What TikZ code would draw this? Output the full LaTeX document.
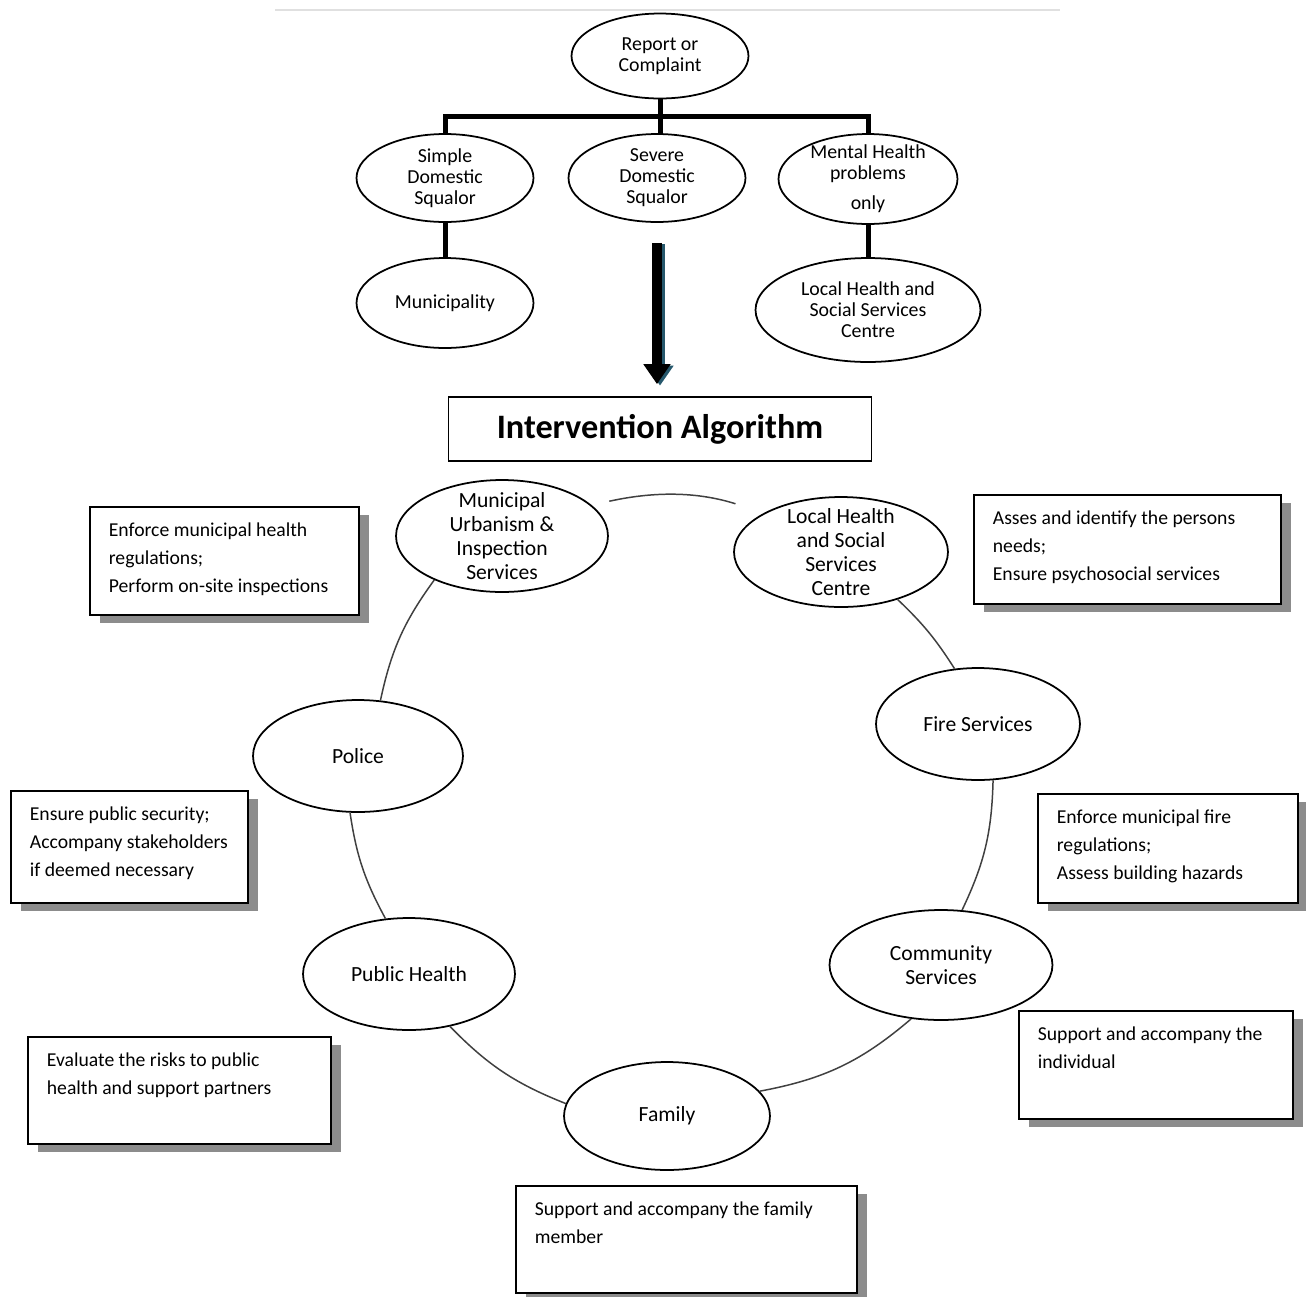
\documentclass[tikz,border=0pt]{standalone}
\usepackage{fontspec}
\setmainfont{Carlito}
\usepackage{tikz}
\usetikzlibrary{shapes,shadows,arrows.meta}
\definecolor{shadowteal}{RGB}{38,88,108}
\newcommand{\treefont}{\fontsize{11.3}{12}\selectfont}
\newcommand{\ringfont}{\fontsize{12.3}{13.6}\selectfont}
\newcommand{\notefont}{\fontsize{11.2}{15.9}\selectfont}
\newcommand{\notetext}[3]{\parbox[t][#2][t]{#1}{\raggedright #3}}

\begin{document}
\begin{tikzpicture}[x=0.02cm,y=-0.02cm]
\tikzstyle{case} = [ellipse, draw, line width=1pt, align=center, font=\treefont, inner xsep=0pt, inner ysep=-0.2cm]
\tikzstyle{ring} = [ellipse, draw, line width=1pt, align=center, font=\ringfont, inner xsep=0pt, inner ysep=-0.2cm]
\tikzstyle{note} = [draw, line width=1pt, fill=white, anchor=north west, inner xsep=0.38cm, inner ysep=0.32cm, font=\notefont, drop shadow={shadow xshift=0.2cm, shadow yshift=-0.17cm, opacity=1, fill=black!45}]
\tikzstyle{branch} = [line width=0.1cm]
\tikzstyle{link} = [draw=black!75, line width=0.85pt]
\tikzstyle{bigarrow} = [line width=0.2cm, -{Triangle[width=0.52cm,length=0.4cm]}]
\useasboundingbox (0,0) rectangle (1306,1296);

\draw[black!12, line width=0.6pt] (275,10) -- (1060,10);

% the report and its three cases
\node[case, minimum width=3.54cm, minimum height=1.70cm] (report) at (660,56) {Report or\\Complaint};
\node[case, minimum width=3.54cm, minimum height=1.76cm] (simple) at (445,178) {Simple\\Domestic\\Squalor};
\node[case, minimum width=3.54cm, minimum height=1.76cm] (severe) at (657,178) {Severe\\Domestic\\Squalor};
\node[case, minimum width=3.58cm, minimum height=1.80cm] (mental) at (868,179) {Mental Health\\problems\\[0.18cm]only};
\node[case, minimum width=3.54cm, minimum height=1.80cm] (municipality) at (445,303) {Municipality};
\node[case, minimum width=4.50cm, minimum height=2.08cm] (clsc) at (868,310) {Local Health and\\Social Services\\Centre};

\draw[branch] (report.south) -- (report.south |- severe.north);
\draw[branch] (simple.north) -- ++(0,-17) -| (mental.north);
\draw[branch] (simple.south) -- (municipality.north);
\draw[branch] (mental.south) -- (clsc.north);

\node[draw, line width=1pt, minimum width=8.46cm, minimum height=1.28cm, font=\fontsize{19.5}{22}\selectfont\bfseries] (algo) at (660,429) {Intervention Algorithm};

\draw[bigarrow, shadowteal, transform canvas={xshift=0.06cm, yshift=-0.03cm}] ([yshift=-0.4cm]severe.south) -- ([yshift=0.24cm]severe.south |- algo.north);
\draw[bigarrow] ([yshift=-0.4cm]severe.south) -- ([yshift=0.24cm]severe.south |- algo.north);

% the ring of partners
\node[ring, minimum width=4.24cm, minimum height=2.24cm] (urban) at (502,536) {Municipal\\Urbanism \&\\Inspection\\Services};
\node[ring, minimum width=4.28cm, minimum height=2.20cm] (health) at (841,552) {Local Health\\and Social\\Services\\Centre};
\node[ring, minimum width=4.08cm, minimum height=2.24cm] (fire) at (978,724) {Fire Services};
\node[ring, minimum width=4.46cm, minimum height=2.20cm] (community) at (941,965) {Community\\Services};
\node[ring, minimum width=4.12cm, minimum height=2.16cm] (family) at (667,1116) {Family};
\node[ring, minimum width=4.24cm, minimum height=2.24cm] (public) at (409,974) {Public Health};
\node[ring, minimum width=4.20cm, minimum height=2.24cm] (police) at (358,756) {Police};

\draw[link, shorten <=0.36cm, shorten >=0.6cm] (urban.19) to[bend left=15] (health.153);
\draw[link] (health.-40) to[bend left=7] (fire.113);
\draw[link] (fire.-75) to[bend left=12] (community.69);
\draw[link] (community.-119) to[bend left=15] (family.15);
\draw[link] (family.173) to[bend left=12] (public.-52);
\draw[link] (public.113) to[bend left=10] (police.-98);
\draw[link] (police.68) to[bend left=12] (urban.213);

% what each partner does
\node[note] (urbannote) at (89,506) {\notetext{4.62cm}{1.52cm}{Enforce municipal health\\regulations;\\Perform on-site inspections}};
\node[note] (healthnote) at (973,494) {\notetext{5.38cm}{1.54cm}{Asses and identify the persons\\needs;\\Ensure psychosocial services}};
\node[note] (policenote) at (10,790) {\notetext{3.98cm}{1.60cm}{Ensure public security;\\Accompany stakeholders\\if deemed necessary}};
\node[note] (firenote) at (1037,793) {\notetext{4.44cm}{1.54cm}{Enforce municipal fire\\regulations;\\Assess building hazards}};
\node[note] (communitynote) at (1018,1010) {\notetext{4.72cm}{1.52cm}{Support and accompany the\\individual}};
\node[note] (publicnote) at (27,1036) {\notetext{5.30cm}{1.50cm}{Evaluate the risks to public\\health and support partners}};
\node[note] (familynote) at (515,1185) {\notetext{6.06cm}{1.50cm}{Support and accompany the family\\member}};

\end{tikzpicture}
\end{document}
